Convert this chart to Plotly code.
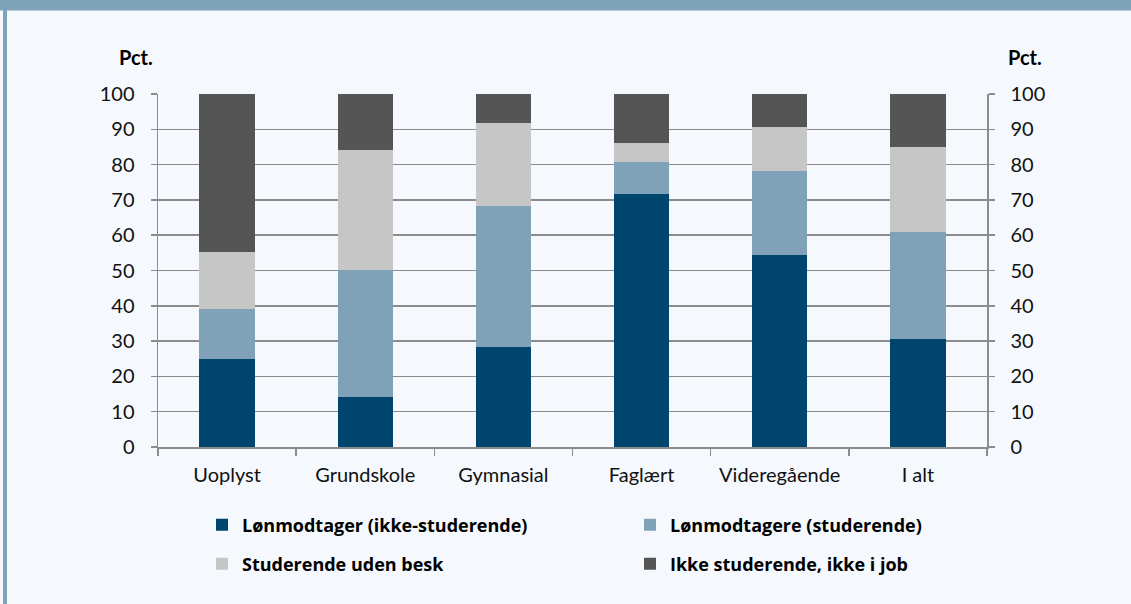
import plotly.graph_objects as go

categories = ["Uoplyst", "Grundskole", "Gymnasial", "Faglært", "Videregående", "I alt"]
series_names = [
    "Lønmodtager (ikke-studerende)",
    "Lønmodtagere (studerende)",
    "Studerende uden besk",
    "Ikke studerende, ikke i job",
]
loen_ikke_stud = [25.0, 14.1, 28.4, 71.8, 54.5, 30.6]
loen_stud = [14.2, 36.0, 39.8, 8.9, 23.6, 30.4]
stud_uden_besk = [16.0, 33.9, 23.5, 5.3, 12.5, 23.9]
ikke_stud_ikke_job = [44.8, 16.0, 8.3, 14.0, 9.4, 15.1]
y_ticks = list(range(0, 101, 10))

colors = ["#00456E", "#7FA2B8", "#C6C6C6", "#555555"]
values = [loen_ikke_stud, loen_stud, stud_uden_besk, ikke_stud_ikke_job]
legend_ids = ["legend", "legend2", "legend3", "legend4"]

W, H = 1131, 604
ML, MR, MT, MB = 158, 144, 94, 157
PW, PH = W - ML - MR, H - MT - MB

def px_x(x):
    return (x - ML) / PW

def px_y(y):
    return (H - MB - y) / PH

fig = go.Figure()
for name, vals, col, lg in zip(series_names, values, colors, legend_ids):
    fig.add_trace(go.Bar(
        x=categories, y=vals, name=name, marker=dict(color=col, line=dict(width=0)),
        legend=lg,
    ))

grid = "#8C8C8C"
tickfont = dict(family="Lato", size=20, color="#111111")
legfont = dict(family="Open Sans", size=18, color="#000000", weight="bold")

leg_pos = [(202, 525), (630, 525), (202, 564), (630, 564)]
legends = {}
for lg, (lx, ly) in zip(legend_ids, leg_pos):
    legends[lg] = dict(
        x=px_x(lx), y=px_y(ly), xanchor="left", yanchor="middle",
        orientation="h", font=legfont, bgcolor="rgba(0,0,0,0)",
        borderwidth=0, itemclick=False, itemdoubleclick=False,
    )

fig.update_layout(
    width=W, height=H,
    margin=dict(l=ML, r=MR, t=MT, b=MB, autoexpand=False),
    paper_bgcolor="#F5F9FD", plot_bgcolor="#F5F9FD",
    barmode="stack", bargap=0.6,
    showlegend=True,
    xaxis=dict(
        type="category", tickson="boundaries", ticks="outside", ticklen=7,
        tickcolor=grid, tickwidth=1.5, showline=True, linecolor=grid, linewidth=1.5,
        showgrid=False, tickfont=tickfont, ticklabelstandoff=9, fixedrange=True,
    ),
    yaxis=dict(
        range=[0, 100], tickvals=y_ticks, ticks="outside", ticklen=6,
        tickcolor=grid, tickwidth=1.5, showline=True, linecolor=grid, linewidth=1.5,
        showgrid=True, gridcolor=grid, gridwidth=1.5, zeroline=False,
        tickfont=tickfont, ticklabelstandoff=12, fixedrange=True,
    ),
    yaxis2=dict(
        range=[0, 100], tickvals=y_ticks, ticks="outside", ticklen=6,
        tickcolor=grid, tickwidth=1.5, showline=True, linecolor=grid, linewidth=1.5,
        showgrid=False, zeroline=False, overlaying="y", side="right",
        tickfont=tickfont, ticklabelstandoff=12, fixedrange=True,
    ),
    **legends,
)

# invisible trace to anchor the right axis
fig.add_trace(go.Scatter(x=[categories[0]], y=[0], yaxis="y2", mode="markers",
                         marker=dict(opacity=0), showlegend=False, hoverinfo="skip"))

pct_font = dict(family="Lato", size=20, color="#000000", weight="bold")
for xp in (135.5, 1025):
    fig.add_annotation(x=px_x(xp), y=px_y(57), xref="paper", yref="paper",
                       text="Pct.", showarrow=False, font=pct_font,
                       xanchor="center", yanchor="middle")

frame = "#7FA3B8"
fig.add_shape(type="rect", xref="paper", yref="paper",
              x0=px_x(0), x1=px_x(W), y0=px_y(0), y1=px_y(10.5),
              fillcolor=frame, line=dict(width=0), layer="below")
fig.add_shape(type="rect", xref="paper", yref="paper",
              x0=px_x(3), x1=px_x(7), y0=px_y(10), y1=px_y(H),
              fillcolor=frame, line=dict(width=0), layer="below")

fig.write_html("out.html", config={"displayModeBar": False, "staticPlot": True},
               post_script="document.body.style.margin='0';")
